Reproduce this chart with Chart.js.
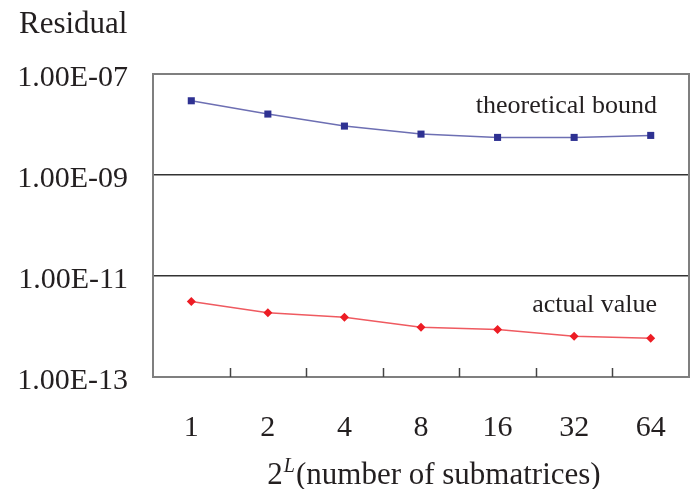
<!DOCTYPE html>
<html>
<head>
<meta charset="utf-8">
<script src="https://cdn.jsdelivr.net/npm/chart.js@4"></script>
<style>
  body { margin: 0; background: #fff; }
</style>
</head>
<body>
<canvas id="chart" width="694" height="489"></canvas>
<script>
// data
const categories = ['1', '2', '4', '8', '16', '32', '64'];
const boundValues = [2.95e-8, 1.61e-8, 9.3e-9, 6.45e-9, 5.55e-9, 5.55e-9, 6.08e-9];
const actualValues = [3.13e-12, 1.87e-12, 1.53e-12, 9.7e-13, 8.7e-13, 6.43e-13, 5.86e-13];
const yTicks = [1e-13, 1e-11, 1e-9, 1e-7];
const seriesNames = ['theoretical bound', 'actual value'];
// y value where each in-plot label sits (baseline)
const labelAnchors = [1.68e-8, 1.9e-12];

const FONT = '"Liberation Serif", "Times New Roman", serif';
const TEXT = '#231f20';

function fmtE(v) {
    const exp = Math.round(Math.log10(v));
    const mant = v / Math.pow(10, exp);
    const sign = exp < 0 ? '-' : '+';
    const e = String(Math.abs(exp)).padStart(2, '0');
    return mant.toFixed(2) + 'E' + sign + e;
}

const decorations = {
    id: 'decorations',
    afterDraw(chart) {
        const ctx = chart.ctx;
        const area = chart.chartArea;
        const x = chart.scales.x;
        const y = chart.scales.y;
        ctx.save();

        // frame
        ctx.strokeStyle = '#7f7f7f';
        ctx.lineWidth = 2;
        ctx.strokeRect(area.left, area.top, area.right - area.left, area.bottom - area.top);

        // inward tick marks between categories
        ctx.strokeStyle = '#444';
        ctx.lineWidth = 1.5;
        for (let i = 1; i < categories.length; i++) {
            const px = Math.round((x.getPixelForValue(i - 1) + x.getPixelForValue(i)) / 2) + 0.5;
            ctx.beginPath();
            ctx.moveTo(px, area.bottom);
            ctx.lineTo(px, area.bottom - 9);
            ctx.stroke();
        }

        ctx.fillStyle = TEXT;
        ctx.textBaseline = 'alphabetic';

        // y axis title
        ctx.font = '31px ' + FONT;
        ctx.textAlign = 'left';
        ctx.fillText('Residual', 19, 33);

        // series labels inside the plot
        ctx.font = '26px ' + FONT;
        ctx.textAlign = 'right';
        seriesNames.forEach((name, i) => {
            ctx.fillText(name, area.right - 32, y.getPixelForValue(labelAnchors[i]));
        });

        // x axis title: 2^L(number of submatrices)
        const big = '31px ' + FONT;
        const sup = 'italic 20px ' + FONT;
        const rest = '(number of submatrices)';
        ctx.font = big;
        const w2 = ctx.measureText('2').width;
        const wr = ctx.measureText(rest).width;
        ctx.font = sup;
        const wl = ctx.measureText('L').width + 2;
        const total = w2 + wl + wr;
        let tx = 434 - total / 2;
        const base = 484;
        ctx.textAlign = 'left';
        ctx.font = big;
        ctx.fillText('2', tx, base);
        tx += w2;
        ctx.font = sup;
        ctx.fillText('L', tx + 1, base - 12);
        tx += wl;
        ctx.font = big;
        ctx.fillText(rest, tx, base);

        ctx.restore();
    }
};

new Chart(document.getElementById('chart'), {
    type: 'line',
    data: {
        labels: categories,
        datasets: [{
            label: seriesNames[0],
            data: boundValues,
            borderColor: '#6d6fb3',
            backgroundColor: '#2e3192',
            pointBorderColor: '#2e3192',
            borderWidth: 1.5,
            pointStyle: 'rect',
            pointRadius: 5,
            pointBorderWidth: 0,
            tension: 0,
        }, {
            label: seriesNames[1],
            data: actualValues,
            borderColor: '#ef5a60',
            backgroundColor: '#ed1c24',
            pointBorderColor: '#ed1c24',
            borderWidth: 1.5,
            pointStyle: 'rectRot',
            pointRadius: 4.5,
            pointBorderWidth: 0,
            tension: 0,
        }]
    },
    options: {
        responsive: false,
        animation: false,
        layout: {
            padding: { top: 74, left: 18, right: 0, bottom: 0 }
        },
        plugins: {
            legend: { display: false },
            tooltip: { enabled: false },
            title: { display: false },
        },
        scales: {
            x: {
                type: 'category',
                offset: true,
                grid: { display: false },
                border: { display: false },
                ticks: {
                    color: TEXT,
                    font: { family: FONT, size: 30 },
                    padding: 25,
                    maxRotation: 0,
                },
                afterFit(scale) { scale.height = 112; },
            },
            y: {
                type: 'logarithmic',
                min: 1e-13,
                max: 1e-7,
                afterBuildTicks(scale) {
                    scale.ticks = yTicks.map(v => ({ value: v }));
                },
                afterFit(scale) { scale.width = 135; },
                grid: {
                    drawTicks: false,
                    lineWidth: 1.5,
                    color: (c) => (c.tick && (c.tick.value === 1e-9 || c.tick.value === 1e-11)) ? '#333' : 'rgba(0,0,0,0)',
                },
                border: { display: false },
                ticks: {
                    color: TEXT,
                    font: { family: FONT, size: 30 },
                    padding: 25,
                    labelOffset: 4,
                    callback: (v) => fmtE(v),
                },
            }
        }
    },
    plugins: [decorations]
});
</script>
</body>
</html>
